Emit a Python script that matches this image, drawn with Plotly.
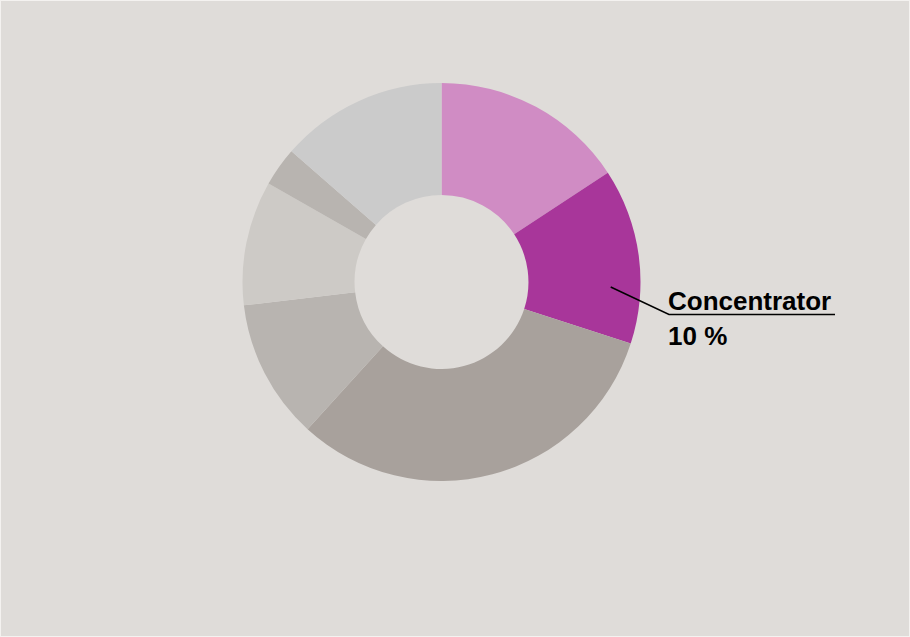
import plotly.graph_objects as go

# Slice shares (percent of circle), clockwise from 12 o'clock
categories = ["Segment 1", "Concentrator", "Segment 3", "Segment 4", "Segment 5", "Segment 6", "Segment 7"]
values = [15.75, 14.26, 31.74, 11.38, 10.10, 3.17, 13.60]
colors = ["#d08cc4", "#a8369a", "#a8a19c", "#b8b4b0", "#cdcac6", "#b8b4b0", "#cbcbcb"]
label_name = "Concentrator"
label_value = "10 %"

W, H = 910, 637
BG = "#dfdcd9"

cx, cy, r = 441.5, 282.0, 199.0

def px(x):
    return x / W

def py(y):
    return 1 - y / H

fig = go.Figure(go.Pie(
    labels=categories,
    values=values,
    marker=dict(colors=colors, line=dict(width=0)),
    hole=0.437,
    sort=False,
    direction="clockwise",
    rotation=0,
    textinfo="none",
    hoverinfo="label+percent",
    showlegend=False,
    domain=dict(x=[px(cx - r), px(cx + r)], y=[py(cy + r), py(cy - r)]),
))

# leader line + underline
fig.add_shape(type="path", xref="paper", yref="paper",
              path=f"M {px(610.7)} {py(287)} L {px(669)} {py(314.5)} L {px(835)} {py(314.5)}",
              line=dict(color="black", width=1.5))

fig.add_annotation(x=px(666), y=py(318), xref="paper", yref="paper",
                   xanchor="left", yanchor="bottom", showarrow=False,
                   text=f"<b>{label_name}</b>",
                   font=dict(family="Liberation Sans, Arial, sans-serif", size=26, color="black"))
fig.add_annotation(x=px(666), y=py(319), xref="paper", yref="paper",
                   xanchor="left", yanchor="top", showarrow=False,
                   text=f"<b>{label_value}</b>",
                   font=dict(family="Liberation Sans, Arial, sans-serif", size=26, color="black"))

# thin light frame
fig.add_shape(type="rect", xref="paper", yref="paper", x0=0, y0=0, x1=1, y1=1,
              line=dict(color="#f4f2f0", width=2), layer="above")

fig.update_layout(
    width=W, height=H,
    margin=dict(l=0, r=0, t=0, b=0),
    paper_bgcolor=BG, plot_bgcolor=BG,
)

fig.write_html("out.html")
